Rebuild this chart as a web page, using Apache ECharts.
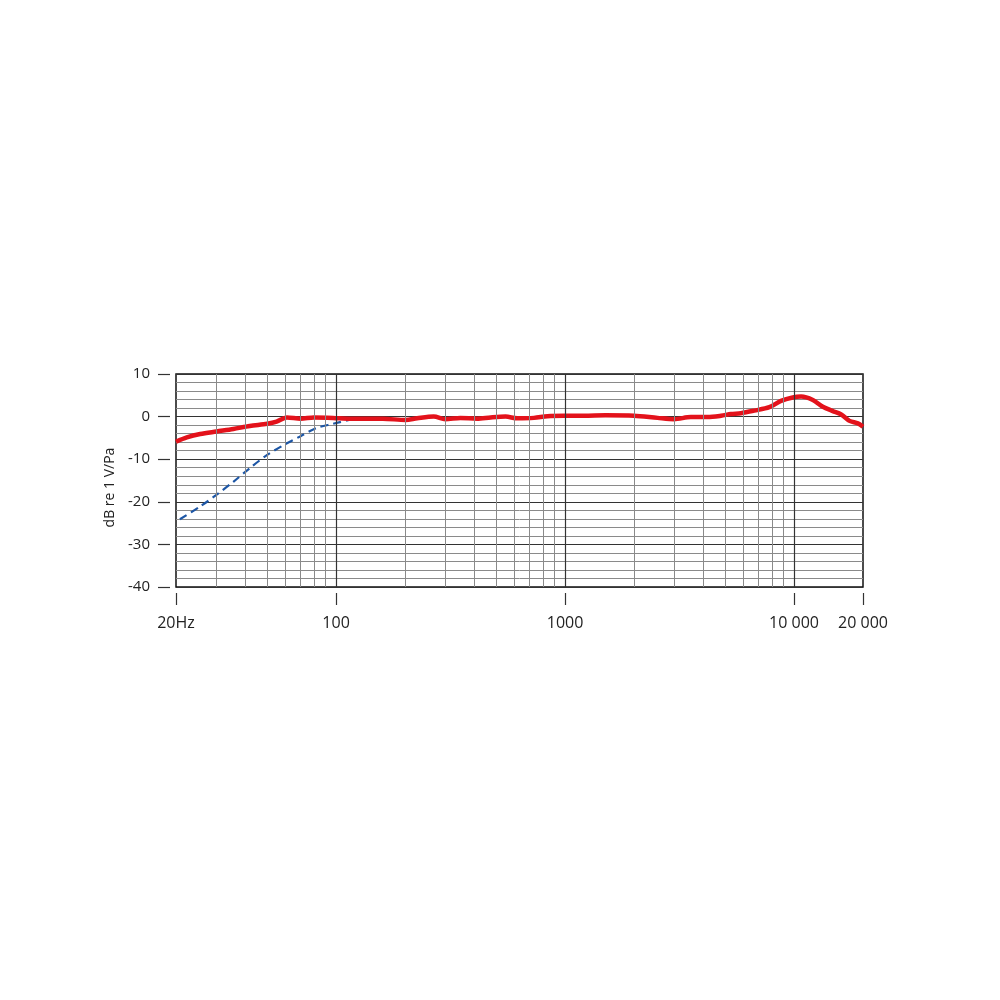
<!DOCTYPE html>
<html>
<head>
<meta charset="utf-8">
<script src="https://cdn.jsdelivr.net/npm/echarts@6/dist/echarts.min.js"></script>
<style>html,body{margin:0;padding:0;background:#fff}#c{width:1000px;height:1000px}</style>
</head>
<body>
<div id="c"></div>
<script>
// Frequency response (red, solid)
const freqRed = [20,22.3,25.5,30,35.6,42,50,55,61,70,80,97,115,132,160,201,226,267,300,349,413,473,550,618,731,837,989,1211,1500,2000,2535,2995,3540,4190,4800,5300,5860,6700,7800,8770,9860,10740,12080,13360,14760,16060,17460,19000,20000];
const dbRed = [-5.9,-4.9,-4.1,-3.5,-2.9,-2.2,-1.7,-1.2,-0.2,-0.5,-0.2,-0.3,-0.5,-0.5,-0.5,-0.8,-0.4,0.0,-0.6,-0.3,-0.5,-0.2,0.0,-0.4,-0.3,0.1,0.2,0.2,0.3,0.2,-0.3,-0.6,-0.1,-0.1,0.2,0.6,0.8,1.4,2.2,3.7,4.5,4.7,3.9,2.3,1.3,0.5,-1.0,-1.6,-2.4];
// Low-cut response (blue, dashed)
const freqBlue = [20.8,25.5,30,35.6,42,50,59,70,82,97,117];
const dbBlue = [-24.1,-21.1,-18.4,-15.3,-12.1,-9.0,-6.7,-4.6,-2.7,-1.7,-0.6];
// Grid / tick definitions
const minorFreqs = [30,40,50,60,70,80,90,200,300,400,500,600,700,800,900,2000,3000,4000,5000,6000,7000,8000,9000];
const majorFreqs = [100,1000,10000];
const xTickLabels = {20:'20Hz',100:'100',1000:'1000',10000:'10 000',20000:'20 000'};

const chart = echarts.init(document.getElementById('c'));
const font = '"Open Sans", "Noto Sans", sans-serif';
const zip = (a,b) => a.map((v,i)=>[v,b[i]]);

chart.setOption({
  animation:false,
  backgroundColor:'#fff',
  grid:{left:176,right:137,top:374,bottom:413,show:true,borderColor:'#111',borderWidth:1.5,backgroundColor:'transparent'},
  xAxis:{
    type:'log', logBase:10, min:20, max:20000,
    offset:6,
    axisLine:{show:true,onZero:false,lineStyle:{color:'rgba(0,0,0,0)',width:0}},
    axisTick:{show:true,interval:0,length:12,lineStyle:{color:'#333',width:1.2}},
    axisLabel:{show:true,interval:0,showMinLabel:true,showMaxLabel:true,margin:22,fontSize:16,color:'#222',fontFamily:font,
      formatter:v=>{const r=Math.round(v);return xTickLabels[r]!==undefined?xTickLabels[r]:'';}},
    splitLine:{show:false},
    minorSplitLine:{show:false}
  },
  yAxis:{
    type:'value', min:-40, max:10, interval:10,
    offset:6,
    axisLine:{show:false},
    axisTick:{show:true,length:12,lineStyle:{color:'#333',width:1.2}},
    axisLabel:{margin:20,fontSize:15,color:'#222',fontFamily:font},
    splitLine:{show:true,lineStyle:{color:'#333',width:1.2}},
    minorTick:{show:false,splitNumber:5},
    minorSplitLine:{show:true,lineStyle:{color:'#8a8a8a',width:1}},
    name:'dB re 1 V/Pa', nameLocation:'middle', nameGap:37,
    nameTextStyle:{fontSize:14,color:'#222',fontFamily:font,padding:[0,14,0,0]}
  },
  series:[
    {
      type:'line', z:1, silent:true, symbol:'none',
      data:zip(freqBlue,dbBlue), lineStyle:{opacity:0},
      markLine:{
        silent:true, symbol:'none', label:{show:false}, animation:false,
        data:[
          ...minorFreqs.map(f=>({xAxis:f,lineStyle:{color:'#8a8a8a',width:1,type:'solid'}})),
          ...majorFreqs.map(f=>({xAxis:f,lineStyle:{color:'#333',width:1.2,type:'solid'}}))
        ]
      }
    },
    {
      type:'line', z:3, symbol:'none', smooth:0.3,
      data:zip(freqBlue,dbBlue),
      lineStyle:{color:'#1d56a5',width:2.2,type:[8,5]}
    },
    {
      type:'line', z:4, symbol:'none', smooth:0.3,
      data:zip(freqRed,dbRed),
      lineStyle:{color:'#e3121b',width:4.5}
    }
  ]
});
</script>
</body>
</html>
